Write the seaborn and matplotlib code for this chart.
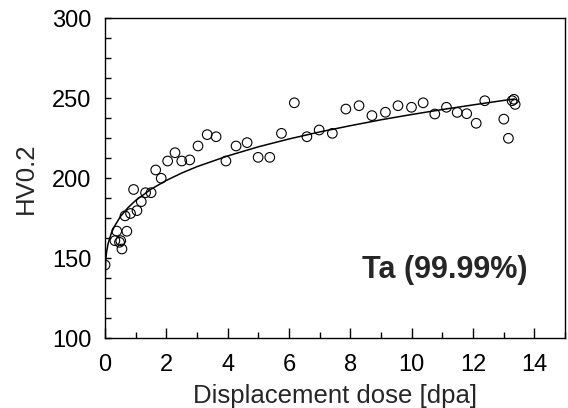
import numpy as np
import pandas as pd
import seaborn as sns
import matplotlib.pyplot as plt
from matplotlib.ticker import MultipleLocator

dose = [0.0, 0.32, 0.38, 0.47, 0.51, 0.55, 0.65, 0.71, 0.83, 0.93,
        1.04, 1.18, 1.32, 1.50, 1.65, 1.83, 2.04, 2.28, 2.50, 2.76,
        3.03, 3.33, 3.62, 3.94, 4.27, 4.63, 4.99, 5.37, 5.75, 6.17,
        6.58, 6.98, 7.41, 7.85, 8.28, 8.70, 9.14, 9.55, 9.99, 10.37,
        10.75, 11.13, 11.48, 11.79, 12.10, 12.38, 13.00, 13.15, 13.27, 13.33,
        13.37]
hv = [145.8, 161.0, 167.0, 160.0, 161.0, 155.8, 176.5, 166.9, 178.0, 193.0,
      179.8, 185.4, 191.0, 191.0, 205.2, 200.0, 210.8, 216.0, 210.8, 211.5,
      220.2, 227.3, 226.0, 210.8, 220.2, 222.3, 213.1, 213.1, 228.1, 247.2,
      226.0, 230.2, 228.1, 243.3, 245.4, 239.2, 241.3, 245.4, 244.4, 247.2,
      240.2, 244.4, 241.2, 240.4, 234.4, 248.5, 237.0, 225.0, 248.5, 249.4,
      246.2]

# Fitted curve, sampled off the figure
fit_dose = [0.0, 0.02, 0.05, 0.1, 0.2, 0.3, 0.5, 0.75, 1.0, 1.5, 2.0, 2.5,
            3.0, 4.0, 5.0, 6.0, 7.0, 8.0, 9.0, 10.0, 11.0, 12.0, 13.0, 13.35]
fit_hv = [132.0, 148.8, 154.1, 159.2, 165.5, 169.8, 176.1, 181.7, 186.2, 193.2,
          198.7, 203.3, 207.3, 214.0, 219.7, 224.6, 229.0, 232.9, 236.6, 239.9,
          243.0, 245.9, 248.7, 249.6]

points = pd.DataFrame({'dose': dose, 'hv': hv})
curve = pd.DataFrame({'dose': fit_dose, 'hv': fit_hv})

sns.set_style("ticks")
plt.rcParams['font.family'] = ['Liberation Sans', 'DejaVu Sans']

fig = plt.figure(figsize=(5.68, 4.08), dpi=100)
ax = fig.add_axes([0.185, 0.171, 0.81, 0.784])

sns.scatterplot(data=points, x='dose', y='hv', ax=ax, s=48,
                facecolor='none', edgecolor='black', linewidth=0.8, zorder=3)
sns.lineplot(data=curve, x='dose', y='hv', ax=ax, color='black',
             linewidth=1.1, zorder=2)

ax.set_xlim(0, 15)
ax.set_ylim(100, 300)
ax.set_xticks([0, 2, 4, 6, 8, 10, 12, 14])
ax.set_yticks([100, 150, 200, 250, 300])
ax.xaxis.set_minor_locator(MultipleLocator(1))
ax.yaxis.set_minor_locator(MultipleLocator(12.5))

ax.tick_params(axis='both', which='both', direction='in', colors='black',
               top=False, right=False, labelsize=17)
ax.tick_params(axis='x', which='major', length=7, width=1, pad=11)
ax.tick_params(axis='x', which='minor', length=4.5, width=1)
ax.tick_params(axis='y', which='major', length=4.5, width=1, pad=10)
ax.tick_params(axis='y', which='minor', length=4.5, width=1)

for side in ['top', 'right', 'bottom', 'left']:
    ax.spines[side].set_visible(True)
    ax.spines[side].set_color('black')
    ax.spines[side].set_linewidth(1)

ax.set_xlabel('Displacement dose [dpa]', fontsize=18.5, labelpad=6)
ax.set_ylabel('HV0.2', fontsize=18.5, labelpad=10)

ax.text(13.78, 142.5, 'Ta (99.99%)', fontsize=22, fontweight='bold',
        ha='right', va='center')

fig.savefig('out.png', dpi=100)
